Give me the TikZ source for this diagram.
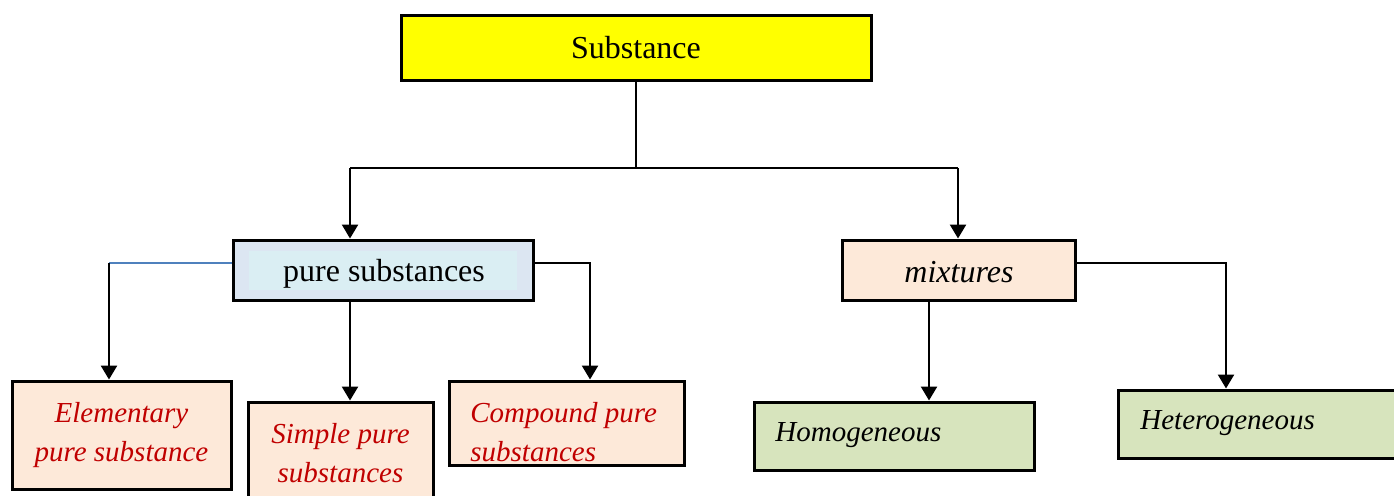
\documentclass[tikz,border=0pt]{standalone}
\usepackage{fontspec}
\setmainfont{Liberation Serif}
\usetikzlibrary{arrows.meta}
\definecolor{subyellow}{HTML}{FFFF00}
\definecolor{pureout}{HTML}{DCE6F2}
\definecolor{purein}{HTML}{DAEEF3}
\definecolor{peach}{HTML}{FDE9D9}
\definecolor{leaf}{HTML}{D7E4BD}
\definecolor{redtxt}{HTML}{C00000}
\definecolor{blueline}{HTML}{4F81BD}
\tikzset{
  box/.style={draw=black, line width=1.5pt, inner sep=0pt},
  conn/.style={draw=black, line width=1.25pt},
  arr/.style={conn, -{Triangle[length=7pt,width=8pt]}},
  bconn/.style={draw=blueline, line width=1.25pt},
  redit/.style={text=redtxt, font=\fontsize{14.5pt}{19.5pt}\selectfont\itshape, align=center, inner sep=0pt},
  blkit/.style={text=black, font=\fontsize{14.5pt}{19pt}\selectfont\itshape, inner sep=0pt},
}
\begin{document}
\begin{tikzpicture}[x=0.5pt,y=-0.5pt]
\useasboundingbox (0,0) rectangle (1394,495);
\clip (0,0) rectangle (1394,495);
% top
\node[box, fill=subyellow, minimum width=235pt, minimum height=32.5pt,
      font=\fontsize{16pt}{19pt}\selectfont] (sub) at (636,47.5) {Substance};
% pure substances
\node[box, fill=pureout, minimum width=150pt, minimum height=30pt] (pure) at (383,270) {};
\fill[purein] (249,251) rectangle (517,290);
\node[font=\fontsize{16pt}{19pt}\selectfont, inner sep=0pt] (pureT) at (384,274) {pure substances};
% mixtures
\node[box, fill=peach, minimum width=116.5pt, minimum height=30pt] (mix) at (958.5,270) {};
\node[font=\fontsize{16pt}{19pt}\selectfont\itshape, inner sep=0pt] (mixT) at (959,272) {mixtures};
% leaves
\node[box, fill=peach, minimum width=109.5pt, minimum height=54pt] (elem) at (121.5,435) {};
\node[redit] (elemT) at (121.5,435) {Elementary\\pure substance};
\node[box, fill=peach, minimum width=92.5pt, minimum height=54pt] (simp) at (340.5,456) {};
\node[redit] (simpT) at (340.5,453) {Simple pure\\substances};
\node[box, fill=peach, minimum width=117.5pt, minimum height=42pt] (comp) at (566.5,423) {};
\node[redit, align=left, anchor=west] (compT) at (470,432) {Compound pure\\substances};
\node[box, fill=leaf, minimum width=140pt, minimum height=34pt] (homo) at (894,436) {};
\node[blkit, anchor=west] (homoT) at (775,435) {Homogeneous};
\node[box, fill=leaf, minimum width=143pt, minimum height=34pt] (het) at (1261,424) {};
\node[blkit, anchor=west] (hetT) at (1140,423) {Heterogeneous};
% connectors
\coordinate (j) at (636,168);
\coordinate (jl) at (350,168);
\coordinate (jr) at (958,168);
\coordinate (el) at (109,263);
\coordinate (cr) at (590,263);
\coordinate (hx) at (929,300);
\coordinate (tx) at (1226,263);
\draw[conn] (sub.south) -- (j);
\draw[conn] (jl) -- (jr);
\draw[arr] (jl) -- (jl |- pure.north);
\draw[arr] (jr) -- (jr |- mix.north);
\draw[bconn] ([yshift=3.5pt]pure.west) -- (el);
\draw[arr] (el) -- (el |- elem.north);
\draw[arr] (jl |- pure.south) -- (jl |- simp.north);
\draw[arr] ([yshift=3.5pt]pure.east) -| (comp.north -| cr);
\draw[arr] (hx |- mix.south) -- (hx |- homo.north);
\draw[arr] ([yshift=3.5pt]mix.east) -| (het.north -| tx);
\end{tikzpicture}
\end{document}
